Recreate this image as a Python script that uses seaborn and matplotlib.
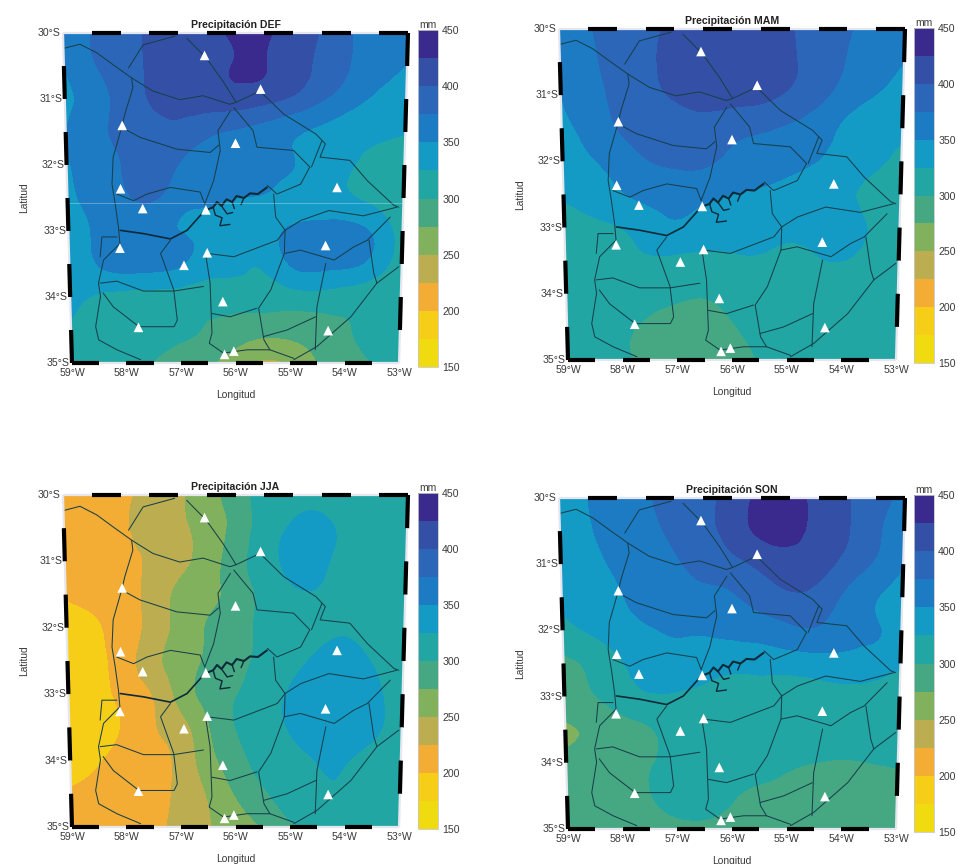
import numpy as np
import pandas as pd
import seaborn as sns
import matplotlib
matplotlib.use("Agg")
import matplotlib.pyplot as plt
import matplotlib.tri as mtri

lons = [-59, -58.5, -58, -57.5, -57, -56.5, -56, -55.5, -55, -54.5, -54, -53.5, -53]
lats = [-30, -30.5, -31, -31.5, -32, -32.5, -33, -33.5, -34, -34.5, -35]

pre_def = [
    [352, 376, 392, 402, 412, 420, 428, 428, 415, 398, 376, 362, 352],
    [350, 372, 390, 402, 410, 418, 426, 426, 412, 394, 375, 360, 349],
    [345, 362, 384, 401, 408, 412, 414, 408, 396, 378, 360, 345, 335],
    [350, 366, 382, 392, 392, 380, 372, 364, 354, 345, 336, 330, 326],
    [348, 362, 376, 386, 374, 366, 362, 358, 351, 340, 328, 316, 308],
    [344, 358, 370, 378, 360, 354, 350, 348, 340, 335, 328, 318, 305],
    [336, 352, 358, 358, 350, 346, 342, 340, 354, 360, 360, 345, 312],
    [328, 350, 360, 358, 352, 338, 332, 328, 352, 358, 356, 340, 310],
    [332, 322, 316, 314, 312, 308, 310, 312, 314, 316, 312, 308, 305],
    [322, 312, 306, 303, 301, 299, 290, 283, 283, 288, 298, 303, 306],
    [316, 308, 303, 299, 290, 280, 258, 246, 252, 275, 290, 300, 304],
]
pre_mam = [
    [355, 372, 388, 396, 404, 412, 418, 416, 402, 390, 378, 362, 352],
    [352, 368, 386, 396, 408, 418, 422, 420, 405, 388, 374, 360, 350],
    [350, 364, 382, 394, 402, 408, 410, 408, 396, 382, 364, 350, 340],
    [345, 358, 376, 388, 392, 394, 384, 378, 372, 362, 345, 335, 330],
    [338, 348, 360, 374, 380, 380, 368, 364, 358, 350, 340, 330, 318],
    [328, 336, 347, 356, 358, 355, 350, 346, 340, 336, 330, 318, 310],
    [315, 320, 325, 338, 346, 340, 338, 335, 330, 332, 336, 322, 312],
    [310, 314, 318, 322, 320, 318, 320, 322, 318, 322, 325, 315, 308],
    [308, 310, 312, 308, 304, 302, 308, 312, 312, 312, 312, 310, 306],
    [308, 306, 303, 297, 290, 288, 298, 305, 306, 308, 308, 308, 306],
    [306, 304, 302, 296, 290, 288, 292, 301, 304, 306, 306, 306, 306],
]
pre_jja = [
    [212, 215, 221, 231, 246, 262, 290, 306, 316, 316, 312, 310, 308],
    [210, 214, 222, 233, 246, 258, 284, 310, 328, 330, 318, 310, 308],
    [208, 212, 220, 228, 244, 260, 290, 312, 333, 330, 316, 310, 306],
    [202, 208, 216, 232, 255, 268, 285, 306, 320, 322, 312, 308, 304],
    [190, 196, 212, 232, 258, 276, 288, 306, 312, 318, 320, 310, 305],
    [188, 194, 212, 240, 262, 278, 292, 306, 318, 330, 334, 322, 308],
    [186, 190, 207, 225, 258, 283, 299, 312, 328, 338, 338, 330, 308],
    [184, 188, 203, 222, 240, 272, 300, 310, 328, 338, 338, 330, 308],
    [190, 198, 208, 216, 232, 264, 290, 308, 316, 326, 326, 316, 306],
    [202, 205, 210, 218, 230, 252, 276, 296, 312, 322, 322, 312, 304],
    [206, 208, 212, 220, 232, 248, 262, 276, 296, 308, 310, 306, 302],
]
pre_son = [
    [338, 350, 362, 372, 386, 396, 408, 432, 434, 418, 402, 385, 368],
    [335, 348, 358, 368, 380, 392, 410, 430, 432, 418, 402, 380, 360],
    [330, 342, 354, 362, 372, 382, 392, 405, 414, 410, 392, 372, 352],
    [325, 336, 348, 356, 364, 368, 372, 386, 396, 392, 370, 352, 340],
    [318, 328, 340, 348, 352, 352, 356, 360, 368, 372, 360, 352, 342],
    [296, 305, 322, 336, 342, 338, 332, 334, 336, 338, 340, 338, 330],
    [290, 298, 312, 322, 322, 318, 316, 315, 312, 318, 320, 318, 310],
    [272, 280, 290, 298, 310, 314, 316, 318, 316, 316, 316, 314, 312],
    [282, 287, 292, 298, 308, 312, 312, 312, 305, 300, 298, 300, 302],
    [286, 288, 290, 299, 306, 308, 302, 295, 292, 290, 290, 292, 296],
    [288, 289, 291, 294, 296, 296, 294, 292, 290, 290, 290, 291, 294],
]

station_lon = [-56.54, -55.56, -58.00, -56.00, -58.05, -57.66, -56.53, -54.19, -58.08,
               -54.38, -56.51, -56.93, -56.23, -57.77, -54.31, -56.03, -56.20]
station_lat = [-30.34, -30.85, -31.40, -31.67, -32.36, -32.66, -32.68, -32.34, -33.26,
               -33.22, -33.33, -33.52, -34.07, -34.46, -34.51, -34.82, -34.87]

# lineas del mapa (lon, lat)
roads = [
    [(-58.98, -30.23), (-58.71, -30.17), (-58.42, -30.30), (-58.14, -30.48), (-57.82, -30.68),
     (-57.80, -30.83), (-57.95, -31.23), (-58.01, -31.43), (-58.17, -31.88), (-58.20, -32.29),
     (-58.15, -32.59), (-58.10, -32.94), (-58.08, -33.19), (-58.38, -33.44), (-58.48, -33.79),
     (-58.45, -33.99), (-58.55, -34.45), (-58.50, -34.65), (-58.17, -34.80), (-57.74, -34.95)],
    [(-57.82, -30.68), (-57.45, -30.88), (-56.98, -31.01), (-56.57, -30.95), (-56.10, -31.08),
     (-55.99, -31.05), (-55.57, -30.88)],
    [(-57.06, -30.05), (-57.61, -30.18), (-57.87, -30.53)],
    [(-56.85, -30.08), (-56.51, -30.38), (-56.22, -30.73), (-55.99, -31.05)],
    [(-56.09, -31.18), (-56.31, -31.48), (-56.27, -31.78), (-56.39, -32.24), (-56.55, -32.59)],
    [(-56.03, -31.13), (-55.69, -31.48), (-55.62, -31.73), (-54.97, -31.78), (-54.68, -32.03),
     (-54.84, -32.29), (-55.26, -32.44), (-55.43, -32.31)],
    [(-55.32, -32.44), (-55.28, -32.79), (-55.11, -32.99), (-55.12, -33.34), (-55.36, -33.89),
     (-55.58, -34.17), (-55.48, -34.65), (-55.37, -34.80)],
    [(-55.57, -30.88), (-55.15, -31.23), (-54.58, -31.53), (-54.41, -31.68), (-54.50, -31.88),
     (-53.97, -31.93), (-53.65, -32.24), (-53.17, -32.61), (-53.08, -32.64)],
    [(-54.65, -32.03), (-54.47, -31.63)],
    [(-55.11, -32.99), (-54.83, -32.84), (-54.33, -32.69), (-53.71, -32.77), (-53.12, -32.64)],
    [(-55.12, -33.34), (-54.83, -33.29), (-54.22, -33.44), (-53.87, -33.24), (-53.63, -33.14),
     (-53.23, -32.79)],
    [(-53.60, -33.14), (-53.50, -33.64), (-53.44, -33.79), (-53.05, -33.54)],
    [(-53.44, -33.79), (-53.90, -34.30), (-54.51, -34.75), (-54.93, -34.95)],
    [(-54.37, -33.49), (-54.52, -34.15), (-54.54, -34.80)],
    [(-57.17, -33.14), (-57.35, -33.34), (-57.12, -33.89), (-57.06, -34.35), (-57.12, -34.45),
     (-57.76, -34.45), (-58.22, -34.15), (-58.40, -33.94)],
    [(-58.45, -33.79), (-58.15, -33.76), (-57.67, -33.91), (-57.12, -33.91), (-56.58, -33.84)],
    [(-58.12, -32.44), (-57.82, -32.54), (-57.58, -32.44), (-57.16, -32.34), (-56.63, -32.41),
     (-56.55, -32.59)],
    [(-56.54, -33.34), (-56.46, -33.79), (-56.43, -34.55), (-56.48, -34.70), (-56.22, -34.85),
     (-55.79, -34.80), (-55.37, -34.80), (-54.93, -34.93)],
    [(-56.43, -34.25), (-56.10, -34.30), (-55.61, -34.17)],
    [(-55.49, -34.60), (-55.06, -34.50), (-54.54, -34.30)],
    [(-56.51, -33.34), (-56.03, -33.39), (-55.25, -33.14), (-55.11, -32.99)],
    [(-58.44, -33.39), (-58.40, -33.09), (-58.13, -33.09)],
    [(-58.01, -31.43), (-57.69, -31.58), (-57.04, -31.76), (-56.45, -31.81), (-56.30, -31.70)],
]
river = [(-58.07, -32.99), (-57.65, -33.04), (-57.17, -33.12), (-56.87, -32.99), (-56.55, -32.69)]
lake = [(-56.55, -32.69), (-56.40, -32.64), (-56.33, -32.56), (-56.25, -32.62), (-56.16, -32.52),
        (-56.06, -32.56), (-55.98, -32.47), (-55.85, -32.50), (-55.74, -32.43), (-55.60, -32.44),
        (-55.44, -32.34)]
lake_arms = [
    [(-56.40, -32.64), (-56.36, -32.76), (-56.24, -32.80), (-56.28, -32.92), (-56.10, -32.90)],
    [(-56.25, -32.62), (-56.15, -32.74), (-56.05, -32.72)],
    [(-56.06, -32.56), (-56.02, -32.66)],
    [(-55.85, -32.50), (-55.90, -32.60)],
]

titles = ["Precipitación DEF", "Precipitación MAM", "Precipitación JJA", "Precipitación SON"]
fields = [pre_def, pre_mam, pre_jja, pre_son]
levels = [150, 175, 200, 225, 250, 275, 300, 325, 350, 375, 400, 425, 450]
band_colors = ["#F0DA10", "#F6CE18", "#F3AC34", "#BCAE50", "#82B15E", "#46A882",
               "#22A6A4", "#139BC6", "#1D7BC4", "#2C66B8", "#3350A6", "#3B2A8E"]
cbar_ticks = [150, 200, 250, 300, 350, 400, 450]
lon_ticks = [-59, -58, -57, -56, -55, -54, -53]
lat_ticks = [-30, -31, -32, -33, -34, -35]

# cajas en pixeles: x0, x1, y0, y1 del mapa y y0, y1, x0, x1 de la barra
boxes = [(63, 408, 33, 363, 30, 367, 418, 438),
         (559, 905, 29, 360, 28, 363, 914, 934),
         (63, 408, 495, 827, 493, 829, 418, 438),
         (559, 905, 498, 829, 495, 832, 914, 934)]

W, H = 958, 864
TAPER = 0.052
sns.set_theme(style="white")
plt.rcParams["font.family"] = ["Liberation Sans", "DejaVu Sans"]
txt = "#3a3a3a"
pal = sns.color_palette(band_colors)


def px(lon, lat):
    return (np.asarray(lon, dtype=float) + 56) * (1 - TAPER * (-30 - np.asarray(lat, dtype=float)) / 5)


def draw_line(ax, pts, lw, color="#17404a"):
    d = pd.DataFrame(pts, columns=["lon", "lat"])
    d["x"] = px(d["lon"], d["lat"])
    sns.lineplot(data=d, x="x", y="lat", sort=False, estimator=None, lw=lw, color=color,
                 ax=ax, legend=False)


def frame_edge(ax, a, b, start_black):
    n = 10 if a[1] != b[1] else 12
    for i in range(n):
        p0 = (a[0] + (b[0] - a[0]) * i / n, a[1] + (b[1] - a[1]) * i / n)
        p1 = (a[0] + (b[0] - a[0]) * (i + 1) / n, a[1] + (b[1] - a[1]) * (i + 1) / n)
        black = (i % 2 == 0) == start_black
        ax.plot([px(*p0), px(*p1)], [p0[1], p1[1]], color="black" if black else "#e6e6ef",
                lw=3 if black else 1.6, solid_capstyle="butt", clip_on=False, zorder=6)


fig = plt.figure(figsize=(W / 100, H / 100), dpi=100)
LON, LAT = np.meshgrid(lons, lats)
tri = mtri.Triangulation(px(LON, LAT).ravel(), LAT.ravel())
refiner = mtri.UniformTriRefiner(tri)
for k, (title, z) in enumerate(zip(titles, fields)):
    x0, x1, y0, y1, cy0, cy1, cx0, cx1 = boxes[k]
    ax = fig.add_axes([x0 / W, 1 - y1 / H, (x1 - x0) / W, (y1 - y0) / H])
    fine_tri, fine_z = refiner.refine_field(np.array(z, dtype=float).ravel(), subdiv=3)
    cs = ax.tricontourf(fine_tri, fine_z, levels=levels, colors=pal, extend="neither")
    if k == 0:
        ax.axhline(-32.58, color="white", lw=0.6, alpha=0.35, zorder=3)
    for r in roads:
        draw_line(ax, r, 0.75)
    draw_line(ax, river, 1.2, "#0c2a38")
    draw_line(ax, lake, 1.5, "#0c2a38")
    for r in lake_arms:
        draw_line(ax, r, 1.0, "#0c2a38")
    st = pd.DataFrame({"x": px(station_lon, station_lat), "lat": station_lat})
    sns.scatterplot(data=st, x="x", y="lat", marker="^", s=48, color="white", edgecolor="none",
                    ax=ax, zorder=5, clip_on=False)
    ax.set_xlim(-3, 3)
    ax.set_ylim(-35, -30)
    ax.set_axis_off()

    frame_edge(ax, (-59, -30), (-53, -30), False)
    frame_edge(ax, (-59, -35), (-53, -35), True)
    frame_edge(ax, (-59, -30), (-59, -35), False)
    frame_edge(ax, (-53, -30), (-53, -35), True)

    for la in lat_ticks:
        ax.text(px(-59, la) - 0.04, la, f"{abs(la)}°S", ha="right", va="center", fontsize=7.6, color=txt)
    for lo in lon_ticks:
        ax.text(px(lo, -35), -35.155, f"{abs(lo)}°W", ha="center", va="center", fontsize=7.6, color=txt)
    ax.text(0, -29.95, title, ha="center", va="bottom", fontsize=7.6, fontweight="bold", color="#222222")
    ax.text(-3.68, -32.5, "Latitud", rotation=90, ha="center", va="center", fontsize=7.4, color=txt)
    ax.text(0, -35.48, "Longitud", ha="center", va="center", fontsize=7.4, color=txt)

    cax = fig.add_axes([cx0 / W, 1 - cy1 / H, (cx1 - cx0) / W, (cy1 - cy0) / H])
    cb = fig.colorbar(cs, cax=cax, ticks=cbar_ticks)
    cb.ax.tick_params(length=0, labelsize=7.6, labelcolor=txt, pad=3)
    cb.outline.set_edgecolor("#c8c8c8")
    cb.outline.set_linewidth(0.6)
    cb.ax.set_title("mm", fontsize=7.4, color=txt, pad=1.5)

fig.savefig("out.png", dpi=100)
